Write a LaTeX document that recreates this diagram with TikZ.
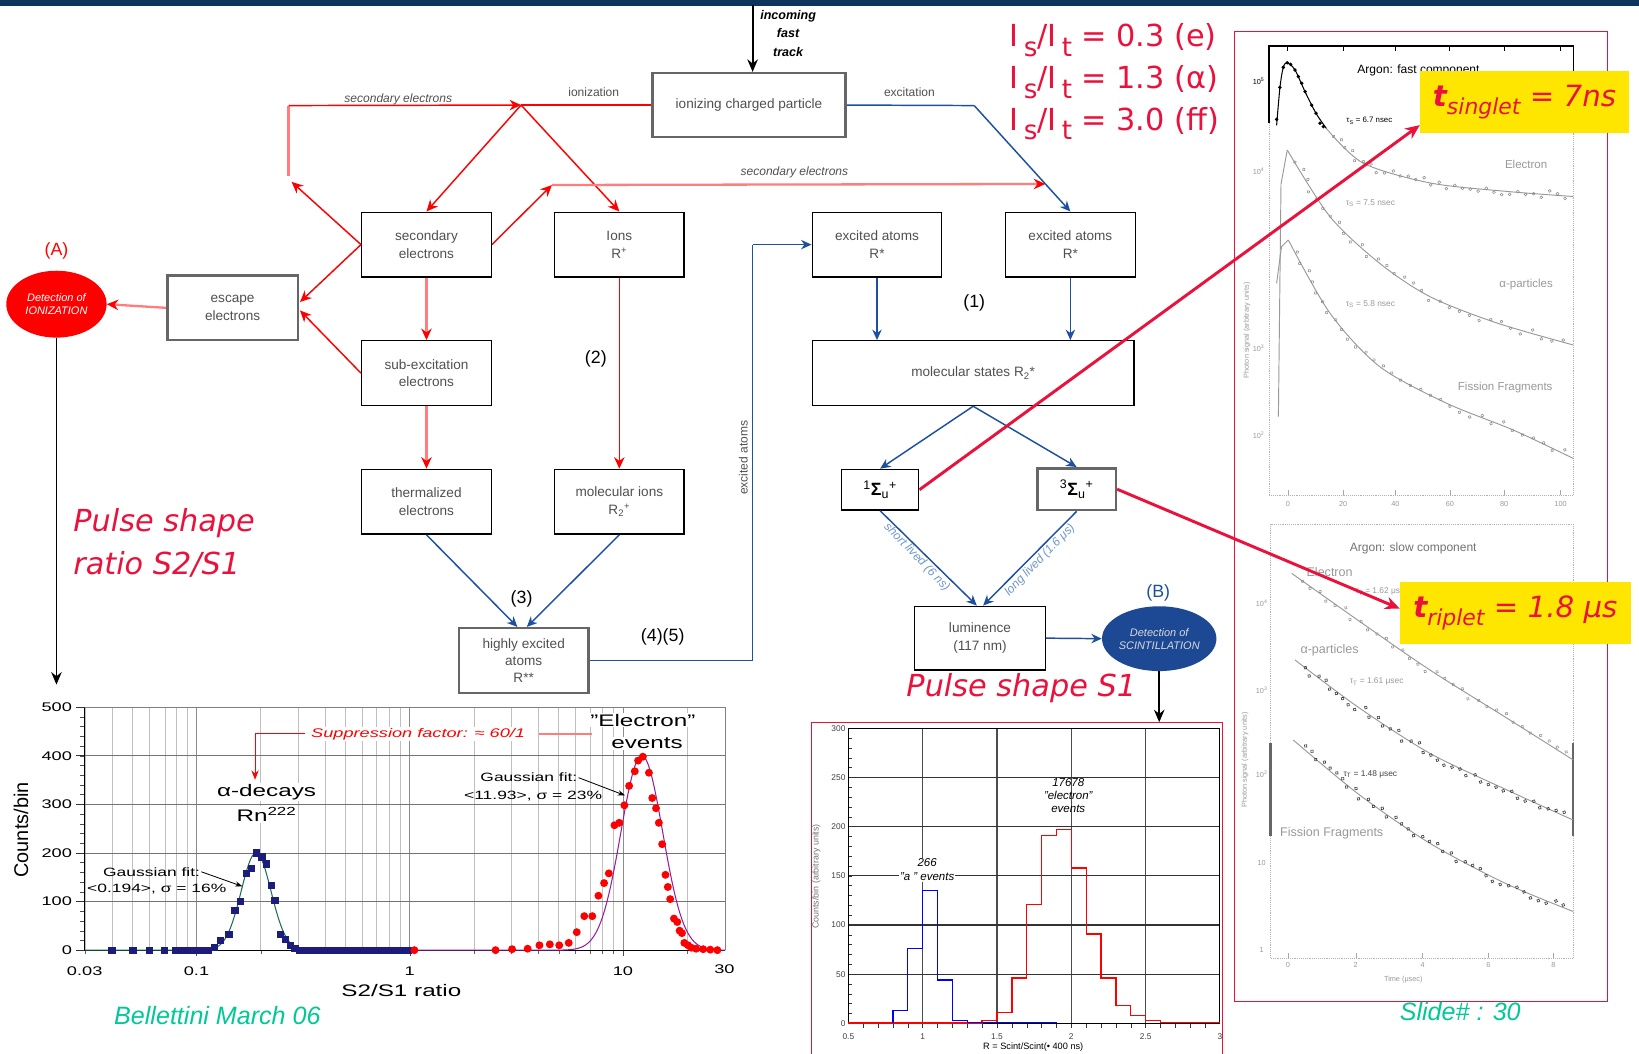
\documentclass[tikz,border=0pt]{standalone}
\usepackage{fontspec}
\setmainfont{Liberation Sans}
\newfontfamily\dvsans{DejaVu Sans}
\usetikzlibrary{arrows.meta,shapes.geometric,decorations.markings}
\definecolor{fr}{RGB}{255,0,0}
\definecolor{lfr}{RGB}{255,125,125}
\definecolor{fb}{RGB}{30,80,160}
\definecolor{lfb}{RGB}{110,150,205}
\definecolor{crim}{RGB}{234,18,60}
\definecolor{ylw}{RGB}{255,230,0}
\definecolor{navy}{RGB}{12,52,92}
\definecolor{mint}{RGB}{0,200,150}
\definecolor{sqblue}{RGB}{28,28,125}
\definecolor{ellb}{RGB}{28,72,148}
\definecolor{txtg}{RGB}{80,80,80}
\definecolor{fitg}{RGB}{30,110,80}
\definecolor{fitp}{RGB}{150,30,160}
\newcommand\isit{I\,\raisebox{-0.32em}{\fontsize{25}{25}\selectfont s}/I\,\raisebox{-0.32em}{\fontsize{25}{25}\selectfont t}}
\newcommand\sxA[1]{\scalebox{1.45}[1]{#1}}
\begin{document}
\begin{tikzpicture}[x=1pt,y=-1pt,
  cbox/.style={draw=black, line width=1.3pt, minimum width=124pt, minimum height=62pt, align=center, text=txtg, font=\fontsize{13}{17}\selectfont, inner sep=1pt, fill=white},
  gcbox/.style={cbox, draw=black!60, line width=2.4pt},
  flbl/.style={text=txtg, font=\fontsize{11.5}{13}\selectfont\itshape, inner sep=1pt},
  rarr/.style={draw=fr, line width=1.4pt, -{Stealth[length=11pt,width=10pt]}},
  lrarr/.style={draw=lfr, line width=2.2pt, -{Stealth[length=11pt,width=10pt,color=fr]}},
  rln/.style={draw=fr, line width=1.4pt},
  lrln/.style={draw=lfr, line width=2.2pt},
  barr/.style={draw=fb, line width=1.4pt, -{Stealth[length=10pt,width=9pt]}},
  bln/.style={draw=fb, line width=1.4pt},
  karr/.style={draw=black, line width=1.8pt, -{Stealth[length=12pt,width=10pt]}},
  crarr/.style={draw=crim, line width=2.8pt, -{Stealth[length=14pt,width=12pt]}},
  num/.style={font=\fontsize{17}{17}\selectfont, inner sep=1pt},
  lblA/.style={font=\fontsize{16}{16}\selectfont, inner sep=1pt, fill=white},
  gaussA/.style={font=\fontsize{11.5}{12}\selectfont, inner sep=1pt},
  tickA/.style={font=\fontsize{12}{12}\selectfont, inner sep=1pt},
  tickB/.style={font=\fontsize{8}{8}\selectfont, inner sep=1pt, text=black!75},
  ptxt/.style={font=\fontsize{11}{11}\selectfont, text=black!40, inner sep=1pt},
  ptiny/.style={font=\fontsize{7}{7}\selectfont, text=black!40, inner sep=1pt},
  redtxt/.style={text=crim, font=\dvsans\itshape\fontsize{29}{29}\selectfont, inner sep=0pt},
  gcurve/.style={draw=black!40, line width=0.9pt},
  scat/.style={postaction={decorate, decoration={markings, mark=between positions 0.04 and 0.98 step 0.03 with {\draw[black!45, line width=0.5pt] (0,{4*rand}) circle (1.4pt);}}}},
  scatk/.style={postaction={decorate, decoration={markings, mark=between positions 0.04 and 0.98 step 0.025 with {\draw[black!75, line width=0.6pt] (0,{4*rand}) circle (1.5pt);}}}}
]
\pgfmathsetseed{5}
\path[use as bounding box] (0,0) rectangle (1568,1008);
\fill[white] (0,0) rectangle (1568,1008);
\fill[navy] (0,0) rectangle (1568,5.5);

% ================= right panel (scanned plots) =================
\draw[crim, line width=1.5pt] (1181,30) rectangle (1538,958);
\draw[black!30, densely dotted, line width=0.8pt] (1214,44) -- (1214,474) -- (1505,474) -- (1505,44);
\draw[black, line width=1pt] (1214,118) -- (1214,44) -- (1505,44) -- (1505,110);
\foreach \t in {1232,1285,1335,1387,1439,1493} {\draw[black, line width=0.8pt] (\t,44) -- (\t,49); \draw[black!35] (\t,474) -- (\t,469);}
\foreach \t/\l in {1232/0,1285/20,1335/40,1387/60,1439/80,1493/100} {\node[ptiny] (ux\l) at (\t,482) {\l};}
\node[font=\fontsize{7}{7}\selectfont, inner sep=1pt] (u105) at (1204,78) {10\textsuperscript{5}};
\node[ptiny] (u104) at (1204,164) {10\textsuperscript{4}};
\node[ptiny] (u103) at (1204,333) {10\textsuperscript{3}};
\node[ptiny] (u102) at (1204,416) {10\textsuperscript{2}};
\node[ptiny, rotate=90] (uyl) at (1193,316) {Photon signal (arbitrary units)};
\node[font=\fontsize{11.5}{12}\selectfont, inner sep=1pt] (ufast) at (1357,67.6) {Argon: fast component};
\node[font=\fontsize{7.5}{8}\selectfont, inner sep=1pt] (utau1) at (1310,115.5) {τ\textsubscript{S} = 6.7 nsec};
\node[ptxt] (uel) at (1460,157) {Electron};
\node[ptiny, font=\fontsize{8}{8}\selectfont] (utau2) at (1311,194.5) {τ\textsubscript{S} = 7.5 nsec};
\node[ptxt] (ual) at (1460,272.6) {α-particles};
\node[ptiny, font=\fontsize{8}{8}\selectfont] (utau3) at (1311,290.8) {τ\textsubscript{S} = 5.8 nsec};
\node[ptxt] (uff) at (1440,370.5) {Fission Fragments};
\draw[black, line width=1pt] plot[smooth] coordinates {(1221.3,120) (1224.5,83.6) (1227.7,64.4) (1231.5,60) (1238.9,67) (1248.5,87.7) (1259,108.4) (1269,123)};
\foreach \px/\py in {1221.3/114.2,1224.5/83.6,1227.7/64.4,1231.5/60,1234.7/61.5,1238.9/67,1242.1/73.3,1245.3/79.7,1248.5/87.7,1254.8/100.5,1259/108.4,1262.8/118,1266/121.2}
  {\fill[black] (\px,\py) circle (1.8pt);}
\draw[gcurve, scat] plot[smooth] coordinates {(1269,123) (1304,156) (1368,175) (1440,183) (1505,188)};
\draw[gcurve] (1223,398.6) -- (1225.5,176) -- (1231.5,143.5);
\draw[gcurve, scat] plot[smooth] coordinates {(1231.5,143.5) (1272.4,207.3) (1320,252) (1368,283.8) (1432,309) (1505,330)};
\draw[gcurve] (1221.3,271) -- (1226,236) -- (1232.5,229.6);
\draw[gcurve, scat] plot[smooth] coordinates {(1232.5,229.6) (1272.4,299.7) (1320,350.8) (1384,385.8) (1447.7,411.4) (1505,438.5)};
\draw[black!30, densely dotted, line width=0.8pt] (1215.6,501.3) rectangle (1505,916.8);
\draw[black!60, line width=2.5pt] (1215.6,711) -- (1215.6,800);
\draw[black!60, line width=2.5pt] (1505,711) -- (1505,800);
\foreach \t/\l in {1232/0,1297/2,1361/4,1424/6,1486/8} {\node[ptiny] (lx\l) at (\t,923) {\l}; \draw[black!35] (\t,916.8) -- (\t,912);}
\node[ptiny] (ltime) at (1342.5,937.5) {Time (μsec)};
\node[ptiny] (l104) at (1207,577) {10\textsuperscript{4}};
\node[ptiny] (l103) at (1207,660) {10\textsuperscript{3}};
\node[ptiny] (l102) at (1207,741) {10\textsuperscript{2}};
\node[ptiny] (l10) at (1207,826) {10};
\node[ptiny] (l1) at (1207,909) {1};
\node[ptiny, rotate=90] (lyl) at (1191,727) {Photon signal (arbitrary units)};
\node[ptxt, text=black!55, font=\fontsize{11.5}{12}\selectfont] (lslow) at (1352,524.6) {Argon: slow component};
\node[ptxt, font=\fontsize{12}{12}\selectfont] (lel) at (1272,547) {Electron};
\node[ptiny, font=\fontsize{8}{8}\selectfont] (ltau1) at (1318,566) {τ\textsubscript{T} = 1.62 μs};
\node[ptxt, font=\fontsize{12}{12}\selectfont] (lal) at (1272,622.5) {α-particles};
\node[ptiny, font=\fontsize{8}{8}\selectfont] (ltau2) at (1317,652) {τ\textsubscript{T} = 1.61 μsec};
\node[ptiny, font=\fontsize{8}{8}\selectfont, text=black!75] (ltau3) at (1311,740.5) {τ\textsubscript{T} = 1.48 μsec};
\node[ptxt, font=\fontsize{12}{12}\selectfont] (lff) at (1274,797) {Fission Fragments};
\draw[gcurve, scat] plot[smooth] coordinates {(1235.7,548.5) (1300,594) (1368,641) (1440,686) (1505,727)};
\draw[gcurve, scatk] plot[smooth] coordinates {(1238.9,631.4) (1300,677) (1368,720.7) (1440,755) (1505,784.5)};
\draw[gcurve, scatk] plot[smooth] coordinates {(1237.3,708) (1300,760) (1368,806.8) (1440,845) (1505,872)};

% ================= flowchart =================
\coordinate (t0) at (720,5);
\node[gcbox, minimum width=185pt, minimum height=61pt] (icp) at (716.5,100.5) {ionizing charged particle};
\draw[karr] (t0) -- (icp.north -| t0);
\node[font=\fontsize{12}{17.5}\selectfont\bfseries\itshape, align=center, inner sep=0pt] (inc) at (754,32) {incoming\\fast\\track};

\node[cbox] (se) at (408,234) {secondary\\electrons};
\node[cbox] (ions) at (592.5,234) {Ions\\R\textsuperscript{+}};
\node[cbox] (ea1) at (839,234) {excited atoms\\R*};
\node[cbox] (ea2) at (1024,234) {excited atoms\\R*};
\node[cbox] (subx) at (408,357) {sub-excitation\\electrons};
\node[cbox] (therm) at (408,480) {thermalized\\electrons};
\node[cbox] (molion) at (592.5,480) {molecular ions\\R\textsubscript{2}\textsuperscript{+}};
\node[gcbox, font=\fontsize{13}{16}\selectfont] (hexc) at (501,632) {highly excited\\atoms\\R**};
\node[gcbox, minimum width=125pt] (esc) at (222.5,294.5) {escape\\electrons};
\node[cbox, minimum width=308pt] (mol) at (931,357) {molecular states R\textsubscript{2}*};
\node[cbox, minimum width=74pt, minimum height=39pt, text=black, font=\fontsize{17}{17}\selectfont] (sig1) at (842,468.5) {\textsuperscript{1}\textbf{Σ}\textsubscript{u}\textsuperscript{+}};
\node[gcbox, minimum width=75pt, minimum height=40pt, text=black, font=\fontsize{17}{17}\selectfont] (sig3) at (1030,468) {\textsuperscript{3}\textbf{Σ}\textsubscript{u}\textsuperscript{+}};
\node[cbox, minimum width=125pt, minimum height=61pt] (lum) at (937.5,610.5) {luminence\\(117 nm)};
\node[ellipse, fill=fr, minimum width=96pt, minimum height=64pt, inner sep=0pt, text=white, align=center, font=\fontsize{10.5}{12.5}\selectfont\itshape] (ellA) at (54,291) {Detection of\\IONIZATION};
\node[ellipse, fill=ellb, minimum width=94pt, minimum height=62pt, inner sep=0pt, text=black!15, align=center, font=\fontsize{10.5}{12.5}\selectfont\itshape] (ellB) at (1109,611) {Detection of\\SCINTILLATION};
\node[text=fr, font=\fontsize{17}{17}\selectfont, inner sep=0pt] (labA) at (54,240) {(A)};
\node[text=fb, font=\fontsize{17}{17}\selectfont, inner sep=0pt] (labB) at (1108,567) {(B)};

\coordinate (j1) at (498.5,100.5);
\coordinate (c1) at (276,101);
\coordinate (c2) at (276,168);
\coordinate (c3) at (279,174);
\coordinate (c4) at (528,177);
\coordinate (c5) at (1000,176);
\coordinate (e1) at (287,289);
\coordinate (e2) at (287,297);
\draw[rln] (icp.west) -- (j1);
\draw[lrln] (c2) -- (c1);
\draw[rarr] (c1) -- (j1);
\draw[rarr] (se.west) -- (c3);
\draw[rarr] (j1) -- (se.north);
\draw[rarr] (j1) -- (ions.north);
\draw[rarr] (se.east) -- (c4);
\draw[lrarr] (c4) -- (c5);
\draw[lrarr] (se.south) -- (subx.north);
\draw[lrarr] (subx.south) -- (therm.north);
\draw[rarr] (ions.south) -- (molion.north);
\draw[rarr] (se.west) -- (e1);
\draw[rarr] (subx.west) -- (e2);
\draw[lrarr] (esc.west) -- (ellA.east);
\node[flbl] (lsec1) at (381,95) {secondary electrons};
\node[flbl, font=\fontsize{11.5}{13}\selectfont] (lion) at (568,88) {ionization};
\node[flbl] (lsec2) at (760,165) {secondary electrons};

\coordinate (b1) at (932,101);
\coordinate (b2) at (720,632);
\coordinate (b3) at (720,234);
\draw[bln] (icp.east) -- (b1);
\draw[barr] (b1) -- (ea2.north);
\node[flbl, font=\fontsize{11.5}{13}\selectfont] (lexc) at (870,88) {excitation};
\draw[barr] (ea1.south) -- (ea1.south |- mol.north);
\draw[barr] (ea2.south) -- (ea2.south |- mol.north);
\draw[barr] (mol.south) -- (sig1.north);
\draw[barr] (mol.south) -- (sig3.north);
\draw[barr] (sig1.south) -- ([xshift=-3pt]lum.north);
\draw[barr] (sig3.south) -- ([xshift=3pt]lum.north);
\draw[barr] (lum.east) -- (ellB.west);
\draw[barr] (therm.south) -- ([xshift=-6pt]hexc.north);
\draw[barr] (molion.south) -- ([xshift=3pt]hexc.north);
\draw[bln] (hexc.east) -- (b2) -- (b3);
\draw[barr] (b3) -- (ea1.west);
\node[flbl, font=\fontsize{11.5}{13}\selectfont, rotate=90] (lexat) at (711,438) {excited atoms};
\node[flbl, text=lfb, rotate=-46] (lshort) at (877,533) {short lived (6 ns)};
\node[flbl, text=lfb, rotate=46] (llong) at (995,536) {long lived (1.6 μs)};

\coordinate (a1) at (54,655);
\coordinate (b4) at (1109,691);
\draw[karr] (ellA.south) -- (a1);
\draw[karr] (ellB.south) -- (b4);

\node[num] (n1) at (932,290) {(1)};
\node[num] (n2) at (570,343) {(2)};
\node[num] (n3) at (499,573) {(3)};
\node[num] (n45) at (634,609) {(4)(5)};

\node[text=crim, font=\dvsans\fontsize{29}{29}\selectfont, anchor=base west, inner sep=0pt] (is1) at (966,44.7) {\isit{} = 0.3 (e)};
\node[text=crim, font=\dvsans\fontsize{29}{29}\selectfont, anchor=base west, inner sep=0pt] (is2) at (966,84.5) {\isit{} = 1.3 (α)};
\node[text=crim, font=\dvsans\fontsize{29}{29}\selectfont, anchor=base west, inner sep=0pt] (is3) at (966,124.4) {\isit{} = 3.0 (ff)};
\node[redtxt, anchor=west] (ps1) at (70,500) {Pulse shape};
\node[redtxt, anchor=west] (ps2) at (70,540) {ratio S2/S1};
\node[redtxt, anchor=west] (ps3) at (867,658) {Pulse shape S1};

% ================= plot A =================
\foreach \v in {0.03,0.04,0.05,0.06,0.07,0.08,0.09,0.2,0.3,0.4,0.5,0.6,0.7,0.8,0.9,2,3,4,5,6,7,8,9,20}
  {\draw[black!25, line width=0.7pt] ({392+88.595*ln(\v)},677) -- ({392+88.595*ln(\v)},909);
   \draw[black!60] ({392+88.595*ln(\v)},909) -- ({392+88.595*ln(\v)},913);}
\foreach \v in {0.1,1,10}
  {\draw[black!45, line width=0.9pt] ({392+88.595*ln(\v)},677) -- ({392+88.595*ln(\v)},909);
   \draw[black!70] ({392+88.595*ln(\v)},909) -- ({392+88.595*ln(\v)},915);}
\foreach \c in {100,200,300,400}
  {\draw[black!55, line width=0.8pt] (81,{909-0.465*\c}) -- (694,{909-0.465*\c});}
\draw[black!50, line width=0.8pt] (81,677) -- (694,677) -- (694,909);
\foreach \c in {0,20,...,500} {\draw[black!70] (81,{909-0.465*\c}) -- (77,{909-0.465*\c});}
\foreach \c in {0,100,...,500} {\draw[black!80, line width=0.8pt] (81,{909-0.465*\c}) -- (73,{909-0.465*\c});}
\draw[black, line width=1pt] (81,677) -- (81,909) -- (694,909);
\foreach \c in {0,100,...,500} {\node[tickA, anchor=east] (ya\c) at (70,{909-0.465*\c}) {\sxA{\c}};}
\node[tickA] (xa1) at (81,929) {\sxA{0.03}};
\node[tickA] (xa2) at (188,929) {\sxA{0.1}};
\node[tickA] (xa3) at (392,929) {\sxA{1}};
\node[tickA] (xa4) at (596,929) {\sxA{10}};
\node[tickA] (xa5) at (693,927) {\sxA{30}};
\node[font=\fontsize{19}{19}\selectfont, rotate=90, inner sep=0pt] (yaxA) at (20,794) {Counts/bin};
\node[font=\fontsize{16}{16}\selectfont, inner sep=0pt] (xaxA) at (384,948) {\sxA{S2/S1 ratio}};
\draw[fitg, line width=1pt] plot[domain=81:393, samples=160, smooth] (\x,{909-93*exp(max(-9,-((\x-245)/20.2237)^2))});
\draw[fitp, line width=1pt] plot[domain=393:694, samples=160, smooth] (\x,{909-186*exp(max(-9,-((\x-614)/28.284)^2))});
\foreach \a/\c in {237/0,282/0,317/0,348/0,372/0,382/0,392/0,402/0,412/0,422/0,432/0,442/0,455/5,467/20,485/32,498/82,510/100,522/158,533/168,543/200,555/192,565/177,575/133,583/102,595/32,605/22,615/10,625/3}
  {\fill[sqblue] ({\a*0.4515-3.5},{909-\c*0.465-3.5}) rectangle ++(7,7);}
\foreach \a in {635,645,...,865}
  {\fill[sqblue] ({\a*0.4515-3.5},{909-3.5}) rectangle ++(7,7);}
\foreach \a/\c in {878/0,1050/0,1085/2,1118/3,1143/10,1165/12,1185/10,1205/15,1222/37,1238/70,1255/70,1268/112,1280/138,1290/158,1302/257,1312/262,1323/298,1333/338,1345/368,1352/390,1362/398,1375/365,1382/313,1390/292,1396/262,1403/218,1410/155,1415/130,1420/105,1428/65,1435/58,1440/40,1445/35,1450/15,1458/10,1465/5,1475/3,1490/2,1505/1,1520/0}
  {\fill[fr] ({\a*0.4515},{909-\c*0.465}) circle (3.8pt);}
\coordinate (sp1) at (244,702);
\coordinate (sp2) at (292,702);
\coordinate (sp3) at (244,746);
\coordinate (sp4) at (516,702);
\coordinate (sp5) at (566,702);
\draw[fr, line width=1pt] (sp2) -- (sp1);
\draw[fr, line width=1pt, -{Stealth[length=9pt,width=7pt]}] (sp1) -- (sp3);
\draw[lfr, line width=1.5pt] (sp4) -- (sp5);
\node[font=\fontsize{12}{12}\selectfont\itshape, text=fr, inner sep=1pt, fill=white] (supp) at (400,702) {\sxA{Suppression factor: ≈ 60/1}};
\node[lblA] (adec) at (255,758) {\sxA{α-decays}};
\node[lblA] (rn) at (255,779) {\sxA{Rn\textsuperscript{222}}};
\node[lblA] (elec) at (615,689) {\sxA{"Electron"}};
\node[lblA] (evts) at (619,711) {\sxA{events}};
\node[gaussA] (gf1) at (506,744) {\sxA{Gaussian fit:}};
\node[gaussA] (gf2) at (510,762) {\sxA{<11.93>, σ = 23\%}};
\node[gaussA] (gf3) at (145,834) {\sxA{Gaussian fit:}};
\node[gaussA] (gf4) at (150,851) {\sxA{<0.194>, σ = 16\%}};
\coordinate (ga1) at (598,761);
\coordinate (ga2) at (232,848);
\draw[black, line width=0.8pt, -{Stealth[length=7pt,width=5pt]}] (gf1.east) -- (ga1);
\draw[black, line width=0.8pt, -{Stealth[length=7pt,width=5pt]}] (gf3.east) -- (ga2);
\node[text=mint, font=\fontsize{24}{24}\selectfont\itshape, inner sep=0pt] (bell) at (208,972) {Bellettini March 06};
\node[text=mint, font=\fontsize{24}{24}\selectfont\itshape, inner sep=0pt] (slide) at (1397,968) {Slide\# : 30};

% ================= plot B =================
\draw[crim, line width=1.5pt] (776.5,1012) -- (776.5,691) -- (1169.7,691) -- (1169.7,1012);
\foreach \v in {1,1.5,2,2.5} {\draw[black!70, line width=1.1pt] ({740.5+142.2*\v},697) -- ({740.5+142.2*\v},979);}
\foreach \c in {50,100,...,250} {\draw[black!80, line width=1pt] (811.6,{979-0.9407*\c}) -- (1167,{979-0.9407*\c});}
\foreach \v in {0.6,0.7,...,2.95} {\draw[black!80] ({740.5+142.2*\v},979) -- ({740.5+142.2*\v},983);}
\foreach \c in {10,20,...,290} {\draw[black!80] (811.6,{979-0.9407*\c}) -- (815,{979-0.9407*\c});}
\draw[black, line width=1.1pt] (811.6,697) rectangle (1167,979);
\foreach \c in {0,50,...,300} {\node[tickB, anchor=east] (yb\c) at (810,{979-0.9407*\c}) {\c};}
\foreach \v/\l in {0.5/0.5,1/1,1.5/1.5,2/2,2.5/2.5,3/3} {\node[tickB] (xb\l) at ({740.5+142.2*\v},991.5) {\l};}
\node[font=\fontsize{8.8}{9}\selectfont, inner sep=0pt] (xaxB) at (988.5,1001.5) {R = Scint/Scint(• 400 ns)};
\node[font=\fontsize{8.5}{9}\selectfont, text=black!55, rotate=90, inner sep=0pt] (yaxB) at (781,838.5) {Counts/bin (arbitrary units)};
\begin{scope}[shift={(740.5,979)}, x=142.2pt, y=0.9407pt]
\draw[red, line width=1.3pt] (0.5,0.5) -- (1.4,0.5) -- (1.4,3) -- (1.5,3) -- (1.5,11) -- (1.6,11) -- (1.6,46) -- (1.7,46) -- (1.7,121) -- (1.8,121) -- (1.8,191) -- (1.9,191) -- (1.9,197) -- (2,197) -- (2,158) -- (2.1,158) -- (2.1,91) -- (2.2,91) -- (2.2,46) -- (2.3,46) -- (2.3,18) -- (2.4,18) -- (2.4,8) -- (2.5,8) -- (2.5,3) -- (2.6,3) -- (2.6,1) -- (3,1);
\draw[blue, line width=1.3pt] (0.8,0.5) -- (0.8,13) -- (0.9,13) -- (0.9,76) -- (1,76) -- (1,135) -- (1.1,135) -- (1.1,44) -- (1.2,44) -- (1.2,3) -- (1.3,3) -- (1.3,1) -- (1.9,1) -- (1.9,0.3);
\end{scope}
\node[font=\fontsize{11}{13}\selectfont\itshape, align=center, inner sep=1pt, fill=white] (l266) at (887,832) {266\\"a " events};
\node[font=\fontsize{11}{12.5}\selectfont\itshape, align=center, inner sep=0pt] (l17678) at (1022,761) {17678\\"electron"\\events};

% ================= red pointers and yellow boxes =================
\node[fill=ylw, minimum width=200pt, minimum height=59.5pt, inner sep=0pt, text=crim, font=\dvsans\itshape\fontsize{28}{28}\selectfont] (ts) at (1458.5,97.75) {\textbf{t}\raisebox{-0.3em}{\fontsize{21}{21}\selectfont singlet} = 7ns};
\node[fill=ylw, minimum width=220.7pt, minimum height=59.5pt, inner sep=0pt, text=crim, font=\dvsans\itshape\fontsize{28}{28}\selectfont] (tt) at (1449.7,586.3) {\textbf{t}\raisebox{-0.3em}{\fontsize{21}{21}\selectfont riplet} = 1.8 μs};
\draw[crarr] (sig1.east) -- ([yshift=8pt]ts.south west);
\draw[crarr] (sig3.east) -- ([yshift=4pt]tt.west);
\end{tikzpicture}
\end{document}
